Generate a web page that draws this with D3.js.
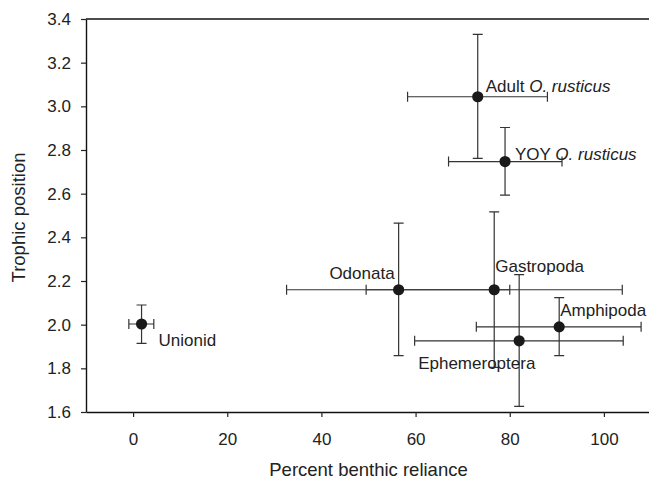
<!DOCTYPE html>
<html>
<head>
<meta charset="utf-8">
<script src="https://cdn.jsdelivr.net/npm/d3@7"></script>
<style>
  body { margin: 0; background: #fff; }
  svg text { font-family: "Liberation Sans", Arial, Helvetica, sans-serif; fill: #222; }
</style>
</head>
<body>
<div id="viz"></div>
<script>
// taxa, means and error bar ends
var taxa = ["Adult", "YOY", "Odonata", "Gastropoda", "Amphipoda", "Ephemeroptera", "Unionid"];
var benthic = [73.2, 79.0, 56.4, 76.7, 90.5, 82.0, 1.8];
var benthicLo = [58.3, 67.0, 32.6, 49.5, 72.9, 59.8, -0.9];
var benthicHi = [88.0, 91.1, 80.0, 103.9, 107.9, 104.1, 4.4];
var trophic = [3.044, 2.747, 2.160, 2.160, 1.990, 1.926, 2.003];
var trophicLo = [2.762, 2.593, 1.858, 1.804, 1.858, 1.626, 1.914];
var trophicHi = [3.330, 2.903, 2.465, 2.517, 2.124, 2.229, 2.090];
var xTicks = [0, 20, 40, 60, 80, 100];
var yTicks = [1.6, 1.8, 2.0, 2.2, 2.4, 2.6, 2.8, 3.0, 3.2, 3.4];

// label placement relative to the point (pixels)
var labelOff = [[8, -5], [10, -2], [-4, -11], [1, -18], [1, -11], [-101, 28], [17, 22]];

var W = 649, H = 481;
var m = {top: 19, left: 86};
var pw = 565, ph = 393;
var ink = "#333";

var svg = d3.select("#viz")
    .append("svg")
    .attr("width", W)
    .attr("height", H);

var g = svg.append("g")
    .attr("transform", "translate(" + m.left + "," + m.top + ")");

var x = d3.scaleLinear().domain([-10, 110]).range([0, pw]);
var y = d3.scaleLinear().domain([1.6, 3.4]).range([ph, 0]);

// axes
var xAx = g.append("g")
    .attr("transform", "translate(0," + ph + ")")
    .call(d3.axisBottom(x).tickValues(xTicks).tickSize(5).tickPadding(16).tickSizeOuter(0));
var yAx = g.append("g")
    .call(d3.axisLeft(y).tickValues(yTicks).tickFormat(d3.format(".1f")).tickSize(5).tickPadding(10).tickSizeOuter(0));

[xAx, yAx].forEach(function(a){
    a.selectAll("path").attr("stroke", "#111").attr("stroke-width", 1.4);
    a.selectAll("line").attr("stroke", "#222").attr("stroke-width", 1.2);
    a.selectAll("text").style("font-size", "17px").attr("fill", "#222");
});

// top border
g.append("line")
    .attr("x1", 0).attr("x2", pw)
    .attr("y1", 0).attr("y2", 0)
    .attr("stroke", "#111")
    .attr("stroke-width", 1.4);

var idx = d3.range(taxa.length);
var cap = 5;

var bars = g.append("g")
    .attr("stroke", ink)
    .attr("stroke-width", 1.2)
    .attr("fill", "none");

idx.forEach(function(i){
    var cx = x(benthic[i]), cy = y(trophic[i]);
    var x0 = x(benthicLo[i]), x1 = x(benthicHi[i]);
    var y0 = y(trophicLo[i]), y1 = y(trophicHi[i]);
    var p = "M" + x0 + "," + cy + "H" + x1 +
        "M" + x0 + "," + (cy - cap) + "V" + (cy + cap) +
        "M" + x1 + "," + (cy - cap) + "V" + (cy + cap) +
        "M" + cx + "," + y0 + "V" + y1 +
        "M" + (cx - cap) + "," + y0 + "H" + (cx + cap) +
        "M" + (cx - cap) + "," + y1 + "H" + (cx + cap);
    bars.append("path").attr("d", p);
});

g.append("g")
    .selectAll("circle")
    .data(idx)
    .enter()
    .append("circle")
    .attr("cx", function(i){ return x(benthic[i]); })
    .attr("cy", function(i){ return y(trophic[i]); })
    .attr("r", 5.6)
    .attr("fill", "#1a1a1a");

// point labels
var labs = g.append("g")
    .selectAll("text")
    .data(idx)
    .enter()
    .append("text")
    .attr("x", function(i){ return x(benthic[i]) + labelOff[i][0]; })
    .attr("y", function(i){ return y(trophic[i]) + labelOff[i][1]; })
    .attr("text-anchor", function(i){ return taxa[i] == "Odonata" ? "end" : "start"; })
    .style("font-size", "17px");

labs.each(function(i){
    var t = d3.select(this);
    if (i < 2) {
        t.append("tspan").text(taxa[i] + " ");
        t.append("tspan").style("font-style", "italic").text("O. rusticus");
    } else {
        t.text(taxa[i]);
    }
});

// axis titles
svg.append("text")
    .attr("x", m.left + x(50))
    .attr("y", 476)
    .attr("text-anchor", "middle")
    .style("font-size", "18.5px")
    .text("Percent benthic reliance");

svg.append("text")
    .attr("transform", "translate(25," + (m.top + ph / 2 + 2) + ") rotate(-90)")
    .attr("text-anchor", "middle")
    .style("font-size", "18.5px")
    .text("Trophic position");
</script>
</body>
</html>
